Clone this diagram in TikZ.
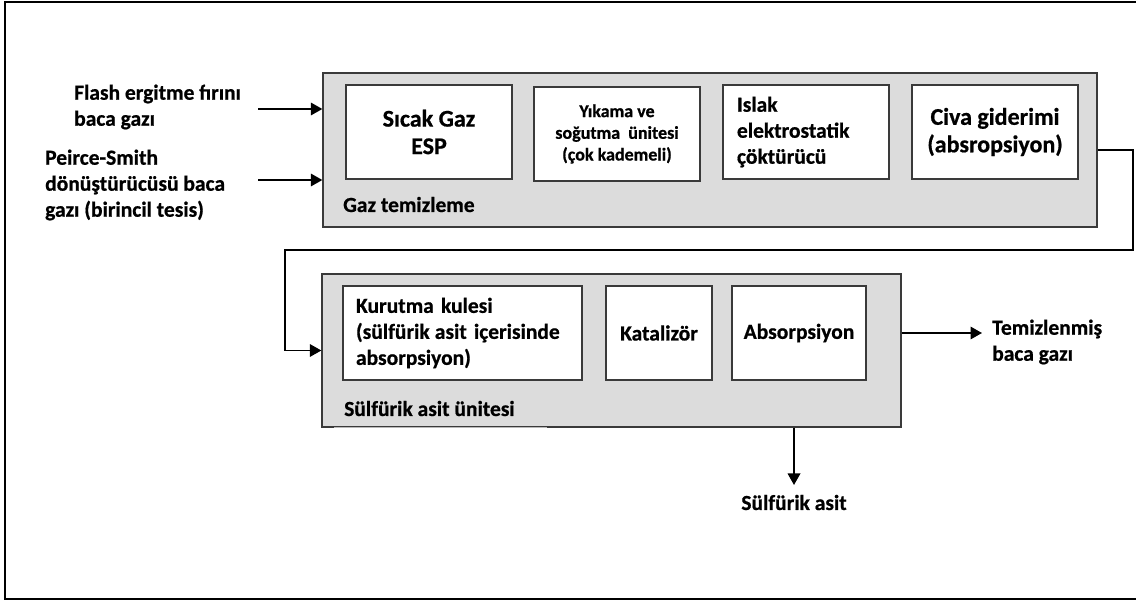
\documentclass[tikz,border=0pt]{standalone}
\usepackage{fontspec}
\setmainfont{Carlito}[BoldFeatures={FakeBold=0.7}]
\usetikzlibrary{arrows.meta,calc}
\definecolor{panelfill}{HTML}{DCDCDC}
\definecolor{edge}{HTML}{3A3A3A}
\begin{document}
\begin{tikzpicture}[x=1pt,y=-1pt,
  font=\bfseries\fontsize{21.5}{26}\selectfont,
  panel/.style={draw=edge, line width=1.3pt, fill=panelfill, inner sep=0pt},
  unit/.style={draw=edge, line width=1.3pt, fill=white, inner sep=0pt, align=center},
  bigtext/.style={font=\bfseries\fontsize{24}{27.5}\selectfont},
  smalltext/.style={font=\bfseries\fontsize{18}{21.7}\selectfont},
  label/.style={align=left, inner sep=0pt},
  flow/.style={line width=1.8pt, -{Triangle[length=11.5pt,width=12.5pt]}}
]
\useasboundingbox (0,0) rectangle (1136,601);
% page frame
\draw[line width=2.5pt] (1136,2) -- (5,2) -- (5,599) -- (1136,599);

% gas cleaning section
\node[panel, minimum width=774pt, minimum height=154pt] (gt) at (710,150) {};
\node[unit, bigtext, minimum width=166pt, minimum height=94pt] (esp) at (429,132) {S\i cak Gaz\\ESP};
\node[unit, smalltext, minimum width=166pt, minimum height=94pt] (wash) at (617,134) {Y\i kama ve\\so\u{g}utma~ \"unitesi\\(\c{c}ok kademeli)};
\node[unit, inner xsep=14pt, text width=138pt, align=left, minimum height=94pt] (wesp) at (806,132) {Islak\\elektrostatik\\\c{c}\"okt\"ur\"uc\"u};
\node[unit, bigtext, minimum width=166pt, minimum height=94pt] (hg) at (995,132) {Civa giderimi\\(absropsiyon)};
\node[label, anchor=base west] (gtl) at (343,212) {Gaz temizleme};

% sulphuric acid section
\node[panel, minimum width=579pt, minimum height=153pt] (sa) at (611.5,350.5) {};
\draw[gray!55, line width=1.3pt] ($(sa.south west)+(13,0)$) -- ($(sa.south west)+(226,0)$);
\node[unit, inner xsep=13pt, text width=213pt, align=left, minimum height=94pt] (dry) at (462.5,333) {Kurutma kulesi\\(s\"ulf\"urik\hspace{-2pt} asit i\c{c}erisinde\\absorpsiyon)};
\node[unit, minimum width=106pt, minimum height=94pt] (cat) at (659,333) {Kataliz\"or};
\node[unit, minimum width=134pt, minimum height=94pt] (abs) at (799,333) {Absorpsiyon};
\node[label, anchor=base west] (sal) at (344,416) {S\"ulf\"urik asit \"unitesi};

% inputs and outputs
\node[label, anchor=west] (flash) at (74,107) {Flash ergitme f\i r\i n\i\\baca gaz\i};
\node[label, anchor=west] (ps) at (45,185) {Peirce-Smith\\d\"on\"u\c{s}t\"ur\"uc\"us\"u baca\\gaz\i{} (birincil tesis)};
\node[label, anchor=west] (clean) at (992,342) {Temizlenmi\c{s}\\baca gaz\i};
\node[label, anchor=base] (acid) at (794,510) {S\"ulf\"urik asit};

\coordinate (in1) at (258,109);
\coordinate (in2) at (258,180);
\coordinate (out1) at (982,333);
\coordinate (out2) at (794,485);

\draw[flow] (in1) -- (gt.west |- in1);
\draw[flow] (in2) -- (gt.west |- in2);
\draw[flow] (gt.east) -- (1133,150) -- (1133,250) -- (285,250) -- (285,350.5) -- (sa.west);
\draw[flow] (sa.east |- abs) -- (out1);
\draw[flow] (sa.south -| out2) -- (out2);
\end{tikzpicture}
\end{document}
